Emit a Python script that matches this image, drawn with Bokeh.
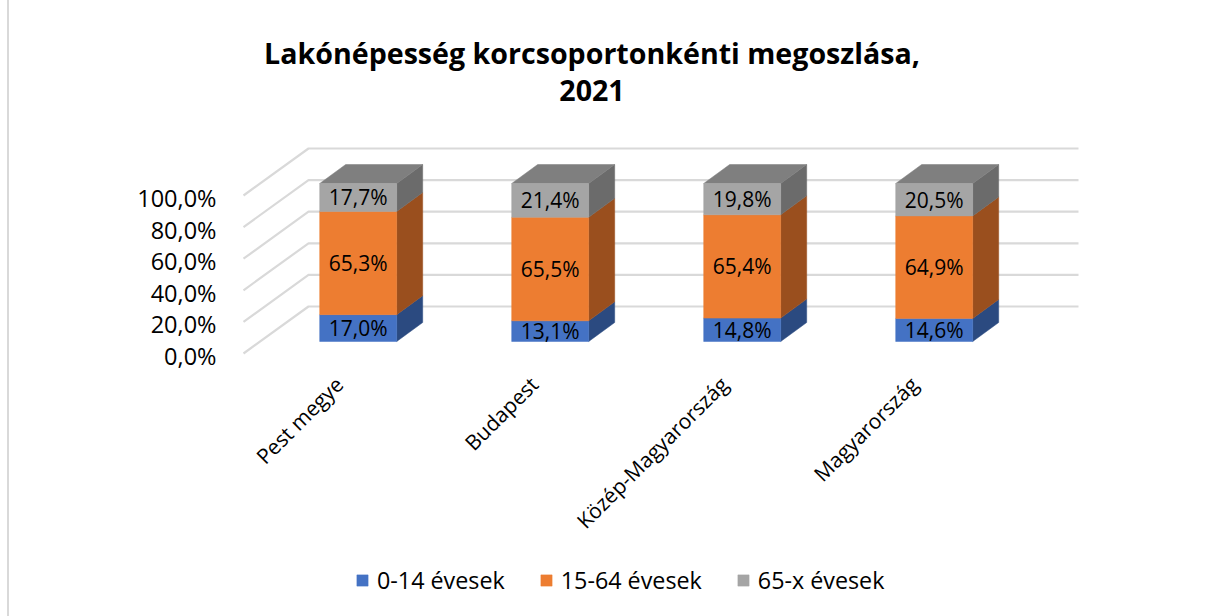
from bokeh.plotting import figure
from bokeh.models import Range1d, LinearAxis, FixedTicker, Label, Legend, LegendItem
from bokeh.core.properties import value
from bokeh.embed import file_html
from bokeh.resources import INLINE
import math

categories = ["Pest megye", "Budapest", "Közép-Magyarország", "Magyarország"]
series_names = ["0-14 évesek", "15-64 évesek", "65-x évesek"]
young = [17.0, 13.1, 14.8, 14.6]
working = [65.3, 65.5, 65.4, 64.9]
old = [17.7, 21.4, 19.8, 20.5]
tick_values = [0, 20, 40, 60, 80, 100]
tick_labels = ["0,0%", "20,0%", "40,0%", "60,0%", "80,0%", "100,0%"]
title_lines = ["Lakónépesség korcsoportonkénti megoszlása,", "2021"]

front_colors = ["#4472C4", "#ED7D31", "#A5A5A5"]
side_colors = ["#2B4A80", "#9A4F1E", "#6B6B6B"]
top_color = "#7F7F7F"
FONT = "Open Sans"

# layout, in page pixels
W, H = 1217, 616
LEFT = 222
PX_X0, PX_UNIT = 357.7, 192.0      # first category centre, px per category
PX_Y0, PX_PCT = 355.5, 1.58        # axis zero, px per percent
BAR_ZERO_PX = 341

def fx(px):
    return (px - PX_X0) / PX_UNIT

def fy(px):
    return (PX_Y0 - px) / PX_PCT

p = figure(width=W, height=H, output_backend="svg", toolbar_location=None,
           x_range=Range1d(fx(LEFT), fx(W)),
           y_range=Range1d(fy(H), fy(0)),
           min_border_left=LEFT, min_border_right=0, min_border_top=0, min_border_bottom=0,
           y_axis_location=None, x_axis_location=None, outline_line_color=None,
           border_fill_alpha=0, background_fill_alpha=0)
p.grid.visible = False
# Left page rule
p.styles = {"background": "linear-gradient(#D9D9D9,#D9D9D9) 7px 0/2px 100% no-repeat"}

yax = LinearAxis(ticker=FixedTicker(ticks=tick_values),
                 major_label_overrides=dict(zip(tick_values, tick_labels)),
                 axis_line_color=None, major_tick_line_color=None, minor_tick_line_color=None,
                 major_label_standoff=0, major_label_text_font=FONT,
                 major_label_text_font_size="23.5px", major_label_text_color="#000000")
p.add_layout(yax, "left")

# Walls / grid of the 3D chart
wall_base = fy(353)
back_dy = 47 / PX_PCT
wx0, wx1, wx2 = fx(243), fx(308), fx(1078)
xs, ys = [], []
for t in tick_values:
    y = wall_base + t
    xs.append([wx0, wx1, wx2])
    ys.append([y, y + back_dy, y + back_dy])
p.multi_line(xs, ys, line_color="#D9D9D9", line_width=2.2)

# 3D stacked columns
half = 38.5 / PX_UNIT
bar_base = fy(BAR_ZERO_PX)
dx = 26 / PX_UNIT
dy = 19 / PX_PCT
stacks = [young, working, old]
legend_items = []
bottoms = [0.0] * len(categories)
for name, vals, fc, sc in zip(series_names, stacks, front_colors, side_colors):
    tops = [b + v for b, v in zip(bottoms, vals)]
    p.patches([[i + half, i + half + dx, i + half + dx, i + half] for i in range(len(vals))],
              [[bar_base + b, bar_base + b + dy, bar_base + t + dy, bar_base + t] for b, t in zip(bottoms, tops)],
              fill_color=sc, line_color=sc, line_width=0.5)
    if name == series_names[-1]:
        p.patches([[i - half, i - half + dx, i + half + dx, i + half] for i in range(len(vals))],
                  [[bar_base + t, bar_base + t + dy, bar_base + t + dy, bar_base + t] for t in tops],
                  fill_color=top_color, line_color=top_color, line_width=0.5)
    r = p.quad(left=[i - half for i in range(len(vals))], right=[i + half for i in range(len(vals))],
               bottom=[bar_base + b for b in bottoms], top=[bar_base + t for t in tops],
               fill_color=fc, line_color=fc, line_width=0.5)
    legend_items.append(LegendItem(label=name, renderers=[r]))
    p.text([i for i in range(len(vals))], [bar_base + (b + t) / 2 for b, t in zip(bottoms, tops)],
           text=[f"{v:.1f}%".replace(".", ",") for v in vals],
           text_align="center", text_baseline="middle", text_font=value(FONT),
           text_font_size="21px", text_color="#000000")
    bottoms = tops

# Rotated category labels
cat_offsets = [-19, -16, -18, -20]
p.text(list(range(len(categories))), [bar_base] * len(categories), text=categories,
       x_offset=cat_offsets, y_offset=[39] * len(categories),
       angle=math.radians(45), text_align="right", text_baseline="middle",
       text_font=value(FONT), text_font_size="21px", text_color="#000000")

# Title
for line, py in zip(title_lines, [52, 90]):
    p.add_layout(Label(x=591.5 - LEFT, y=H - py, x_units="screen", y_units="screen",
                       text=line, text_align="center", text_baseline="middle",
                       text_font=FONT, text_font_style="bold", text_font_size="28.6px", text_color="#000000"))

legend = Legend(items=legend_items, orientation="horizontal", location=(355 - LEFT, 20),
                background_fill_alpha=0, border_line_color=None, margin=0, padding=0,
                glyph_width=14, glyph_height=14, label_standoff=8, spacing=34,
                label_text_font=FONT, label_text_font_size="23.3px", label_text_color="#000000")
p.add_layout(legend, "center")

open("out.html", "w").write(file_html(p, INLINE))
